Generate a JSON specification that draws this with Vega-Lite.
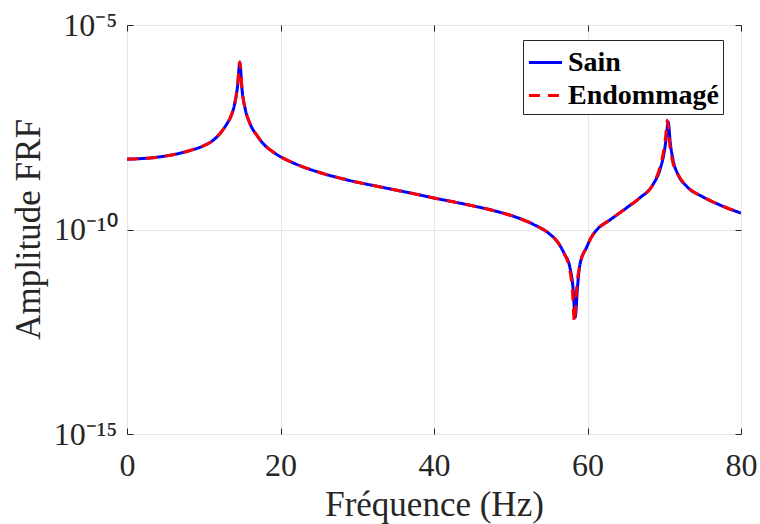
{
  "$schema": "https://vega.github.io/schema/vega-lite/v6.json",
  "width": 614,
  "height": 409,
  "autosize": "none",
  "padding": {"left": 127, "top": 25, "right": 19, "bottom": 90},
  "background": "white",
  "config": {
    "view": {"stroke": "#262626", "strokeWidth": 1},
    "font": "Liberation Serif"
  },
  "datasets": {
    "frf": [
      {"f": 0, "amp": 5.25e-9, "serie": "Sain"},
      {"f": 3, "amp": 5.62e-9, "serie": "Sain"},
      {"f": 6, "amp": 6.76e-9, "serie": "Sain"},
      {"f": 8, "amp": 8.32e-9, "serie": "Sain"},
      {"f": 10, "amp": 1.12e-8, "serie": "Sain"},
      {"f": 11, "amp": 1.41e-8, "serie": "Sain"},
      {"f": 12, "amp": 2.09e-8, "serie": "Sain"},
      {"f": 13, "amp": 3.80e-8, "serie": "Sain"},
      {"f": 13.5, "amp": 5.62e-8, "serie": "Sain"},
      {"f": 14, "amp": 1.12e-7, "serie": "Sain"},
      {"f": 14.4, "amp": 3.16e-7, "serie": "Sain"},
      {"f": 14.7, "amp": 1.17e-6, "serie": "Sain"},
      {"f": 15.0, "amp": 2.51e-7, "serie": "Sain"},
      {"f": 15.4, "amp": 8.91e-8, "serie": "Sain"},
      {"f": 16, "amp": 3.98e-8, "serie": "Sain"},
      {"f": 17, "amp": 1.91e-8, "serie": "Sain"},
      {"f": 18, "amp": 1.12e-8, "serie": "Sain"},
      {"f": 19, "amp": 7.94e-9, "serie": "Sain"},
      {"f": 20, "amp": 6.03e-9, "serie": "Sain"},
      {"f": 22, "amp": 3.98e-9, "serie": "Sain"},
      {"f": 25, "amp": 2.51e-9, "serie": "Sain"},
      {"f": 29, "amp": 1.58e-9, "serie": "Sain"},
      {"f": 33, "amp": 1.10e-9, "serie": "Sain"},
      {"f": 37, "amp": 7.76e-10, "serie": "Sain"},
      {"f": 40, "amp": 5.89e-10, "serie": "Sain"},
      {"f": 44, "amp": 4.17e-10, "serie": "Sain"},
      {"f": 48, "amp": 2.82e-10, "serie": "Sain"},
      {"f": 51, "amp": 1.91e-10, "serie": "Sain"},
      {"f": 53, "amp": 1.32e-10, "serie": "Sain"},
      {"f": 55, "amp": 7.94e-11, "serie": "Sain"},
      {"f": 56, "amp": 5.25e-11, "serie": "Sain"},
      {"f": 57, "amp": 2.51e-11, "serie": "Sain"},
      {"f": 57.7, "amp": 1.20e-11, "serie": "Sain"},
      {"f": 58.1, "amp": 3.98e-12, "serie": "Sain"},
      {"f": 58.4, "amp": 7.24e-13, "serie": "Sain"},
      {"f": 58.7, "amp": 3.98e-12, "serie": "Sain"},
      {"f": 59, "amp": 1.35e-11, "serie": "Sain"},
      {"f": 59.9, "amp": 3.72e-11, "serie": "Sain"},
      {"f": 60.5, "amp": 6.46e-11, "serie": "Sain"},
      {"f": 61.2, "amp": 9.77e-11, "serie": "Sain"},
      {"f": 62.9, "amp": 1.70e-10, "serie": "Sain"},
      {"f": 65.1, "amp": 3.39e-10, "serie": "Sain"},
      {"f": 66.8, "amp": 5.89e-10, "serie": "Sain"},
      {"f": 68.5, "amp": 1.23e-9, "serie": "Sain"},
      {"f": 69.5, "amp": 3.16e-9, "serie": "Sain"},
      {"f": 70, "amp": 7.94e-9, "serie": "Sain"},
      {"f": 70.3, "amp": 2.00e-8, "serie": "Sain"},
      {"f": 70.5, "amp": 4.27e-8, "serie": "Sain"},
      {"f": 70.8, "amp": 1.26e-8, "serie": "Sain"},
      {"f": 71.2, "amp": 4.47e-9, "serie": "Sain"},
      {"f": 71.7, "amp": 2.40e-9, "serie": "Sain"},
      {"f": 73, "amp": 1.10e-9, "serie": "Sain"},
      {"f": 75, "amp": 6.31e-10, "serie": "Sain"},
      {"f": 77, "amp": 4.17e-10, "serie": "Sain"},
      {"f": 80, "amp": 2.51e-10, "serie": "Sain"},

      {"f": 0, "amp": 5.25e-9, "serie": "Endommagé"},
      {"f": 3, "amp": 5.62e-9, "serie": "Endommagé"},
      {"f": 6, "amp": 6.76e-9, "serie": "Endommagé"},
      {"f": 8, "amp": 8.32e-9, "serie": "Endommagé"},
      {"f": 10, "amp": 1.12e-8, "serie": "Endommagé"},
      {"f": 11, "amp": 1.41e-8, "serie": "Endommagé"},
      {"f": 12, "amp": 2.09e-8, "serie": "Endommagé"},
      {"f": 13, "amp": 3.80e-8, "serie": "Endommagé"},
      {"f": 13.5, "amp": 5.62e-8, "serie": "Endommagé"},
      {"f": 14, "amp": 1.12e-7, "serie": "Endommagé"},
      {"f": 14.4, "amp": 3.16e-7, "serie": "Endommagé"},
      {"f": 14.7, "amp": 1.26e-6, "serie": "Endommagé"},
      {"f": 15.0, "amp": 2.51e-7, "serie": "Endommagé"},
      {"f": 15.4, "amp": 8.91e-8, "serie": "Endommagé"},
      {"f": 16, "amp": 3.98e-8, "serie": "Endommagé"},
      {"f": 17, "amp": 1.91e-8, "serie": "Endommagé"},
      {"f": 18, "amp": 1.12e-8, "serie": "Endommagé"},
      {"f": 19, "amp": 7.94e-9, "serie": "Endommagé"},
      {"f": 20, "amp": 6.03e-9, "serie": "Endommagé"},
      {"f": 22, "amp": 3.98e-9, "serie": "Endommagé"},
      {"f": 25, "amp": 2.51e-9, "serie": "Endommagé"},
      {"f": 29, "amp": 1.58e-9, "serie": "Endommagé"},
      {"f": 33, "amp": 1.10e-9, "serie": "Endommagé"},
      {"f": 37, "amp": 7.76e-10, "serie": "Endommagé"},
      {"f": 40, "amp": 5.89e-10, "serie": "Endommagé"},
      {"f": 44, "amp": 4.17e-10, "serie": "Endommagé"},
      {"f": 48, "amp": 2.82e-10, "serie": "Endommagé"},
      {"f": 51, "amp": 1.91e-10, "serie": "Endommagé"},
      {"f": 53, "amp": 1.32e-10, "serie": "Endommagé"},
      {"f": 55, "amp": 7.94e-11, "serie": "Endommagé"},
      {"f": 56, "amp": 5.25e-11, "serie": "Endommagé"},
      {"f": 57, "amp": 2.51e-11, "serie": "Endommagé"},
      {"f": 57.6, "amp": 1.20e-11, "serie": "Endommagé"},
      {"f": 58.0, "amp": 3.98e-12, "serie": "Endommagé"},
      {"f": 58.3, "amp": 5.50e-13, "serie": "Endommagé"},
      {"f": 58.6, "amp": 3.98e-12, "serie": "Endommagé"},
      {"f": 59, "amp": 1.35e-11, "serie": "Endommagé"},
      {"f": 59.9, "amp": 3.72e-11, "serie": "Endommagé"},
      {"f": 60.5, "amp": 6.46e-11, "serie": "Endommagé"},
      {"f": 61.2, "amp": 9.77e-11, "serie": "Endommagé"},
      {"f": 62.9, "amp": 1.70e-10, "serie": "Endommagé"},
      {"f": 65.1, "amp": 3.39e-10, "serie": "Endommagé"},
      {"f": 66.8, "amp": 5.89e-10, "serie": "Endommagé"},
      {"f": 68.5, "amp": 1.23e-9, "serie": "Endommagé"},
      {"f": 69.4, "amp": 3.16e-9, "serie": "Endommagé"},
      {"f": 69.9, "amp": 7.94e-9, "serie": "Endommagé"},
      {"f": 70.2, "amp": 2.00e-8, "serie": "Endommagé"},
      {"f": 70.4, "amp": 4.68e-8, "serie": "Endommagé"},
      {"f": 70.7, "amp": 1.26e-8, "serie": "Endommagé"},
      {"f": 71.1, "amp": 4.47e-9, "serie": "Endommagé"},
      {"f": 71.7, "amp": 2.40e-9, "serie": "Endommagé"},
      {"f": 73, "amp": 1.10e-9, "serie": "Endommagé"},
      {"f": 75, "amp": 6.31e-10, "serie": "Endommagé"},
      {"f": 77, "amp": 4.17e-10, "serie": "Endommagé"},
      {"f": 80, "amp": 2.51e-10, "serie": "Endommagé"}
    ]
  },
  "data": {"name": "frf"},
  "layer": [
    {
      "transform": [{"filter": "datum.serie === 'Sain'"}],
      "mark": {"type": "line", "strokeWidth": 3, "clip": true, "interpolate": "monotone"},
      "encoding": {
        "x": {
          "field": "f", "type": "quantitative",
          "scale": {"domain": [0, 80], "nice": false, "zero": false},
          "axis": {
            "orient": "bottom",
            "values": [0, 20, 40, 60, 80],
            "title": "Fréquence (Hz)",
            "titleFont": "Liberation Serif", "titleFontSize": 35, "titleFontWeight": "normal", "titleColor": "#262626",
            "titleX": 307, "titleY": 81, "titleBaseline": "alphabetic", "titleAlign": "center",
            "labelFont": "Liberation Serif", "labelFontSize": 32, "labelColor": "#262626",
            "labelBaseline": "alphabetic", "labelPadding": 47,
            "labelFlush": false, "labelOverlap": false,
            "domain": false,
            "ticks": true, "tickSize": -6, "tickColor": "#262626",
            "grid": true, "gridColor": "#e6e6e6", "gridWidth": 1
          }
        },
        "y": {
          "field": "amp", "type": "quantitative",
          "scale": {"type": "log", "domain": [1e-15, 1e-5], "nice": false},
          "axis": {
            "orient": "left",
            "values": [1e-15, 1e-10, 1e-5],
            "labelExpr": "datum.value > 1e-6 ? '10⁻⁵' : (datum.value > 1e-12 ? '10⁻¹⁰' : '10⁻¹⁵')",
            "title": "Amplitude FRF",
            "titleFont": "Liberation Serif", "titleFontSize": 35, "titleFontWeight": "normal", "titleColor": "#262626",
            "titleX": -88, "titleY": 204, "titleBaseline": "alphabetic", "titleAlign": "center", "titleAngle": 270,
            "labelFont": "Liberation Serif", "labelFontSize": 32, "labelColor": "#262626",
            "labelPadding": 16, "labelFlush": false, "labelOverlap": false,
            "domain": false,
            "ticks": true, "tickSize": -6, "tickColor": "#262626",
            "grid": true, "gridColor": "#e6e6e6", "gridWidth": 1
          }
        },
        "color": {
          "field": "serie", "type": "nominal",
          "scale": {"domain": ["Sain", "Endommagé"], "range": ["#0000ff", "#ff0000"]},
          "legend": {
            "title": null,
            "orient": "none", "legendX": 396, "legendY": 15,
            "symbolType": "stroke", "symbolSize": 1100, "symbolStrokeWidth": 3,
            "labelFont": "Liberation Serif", "labelFontSize": 28, "labelFontWeight": "bold", "labelColor": "#000000",
            "labelOffset": 4, "rowPadding": 0, "padding": 4,
            "fillColor": "white", "strokeColor": "#262626"
          }
        },
        "strokeDash": {
          "field": "serie", "type": "nominal",
          "scale": {"domain": ["Sain", "Endommagé"], "range": [[1, 0], [11, 8]]},
          "legend": {
            "title": null,
            "orient": "none", "legendX": 396, "legendY": 15,
            "symbolType": "stroke", "symbolSize": 1100, "symbolStrokeWidth": 3,
            "labelFont": "Liberation Serif", "labelFontSize": 28, "labelFontWeight": "bold", "labelColor": "#000000",
            "labelOffset": 4, "rowPadding": 0, "padding": 4,
            "fillColor": "white", "strokeColor": "#262626"
          }
        }
      }
    },
    {
      "transform": [{"filter": "datum.serie === 'Endommagé'"}],
      "mark": {"type": "line", "strokeWidth": 3, "clip": true, "interpolate": "monotone"},
      "encoding": {
        "x": {
          "field": "f", "type": "quantitative",
          "scale": {"domain": [0, 80], "nice": false, "zero": false},
          "axis": {
            "orient": "top", "values": [0, 20, 40, 60, 80], "title": null,
            "labels": false, "domain": false, "grid": false,
            "ticks": true, "tickSize": -6, "tickColor": "#262626"
          }
        },
        "y": {
          "field": "amp", "type": "quantitative",
          "scale": {"type": "log", "domain": [1e-15, 1e-5], "nice": false},
          "axis": {
            "orient": "right", "values": [1e-15, 1e-10, 1e-5], "title": null,
            "labels": false, "domain": false, "grid": false,
            "ticks": true, "tickSize": -6, "tickColor": "#262626"
          }
        },
        "color": {"field": "serie", "type": "nominal", "scale": {"domain": ["Sain", "Endommagé"], "range": ["#0000ff", "#ff0000"]}},
        "strokeDash": {"field": "serie", "type": "nominal", "scale": {"domain": ["Sain", "Endommagé"], "range": [[1, 0], [11, 8]]}}
      }
    }
  ],
  "resolve": {"axis": {"x": "independent", "y": "independent"}}
}
